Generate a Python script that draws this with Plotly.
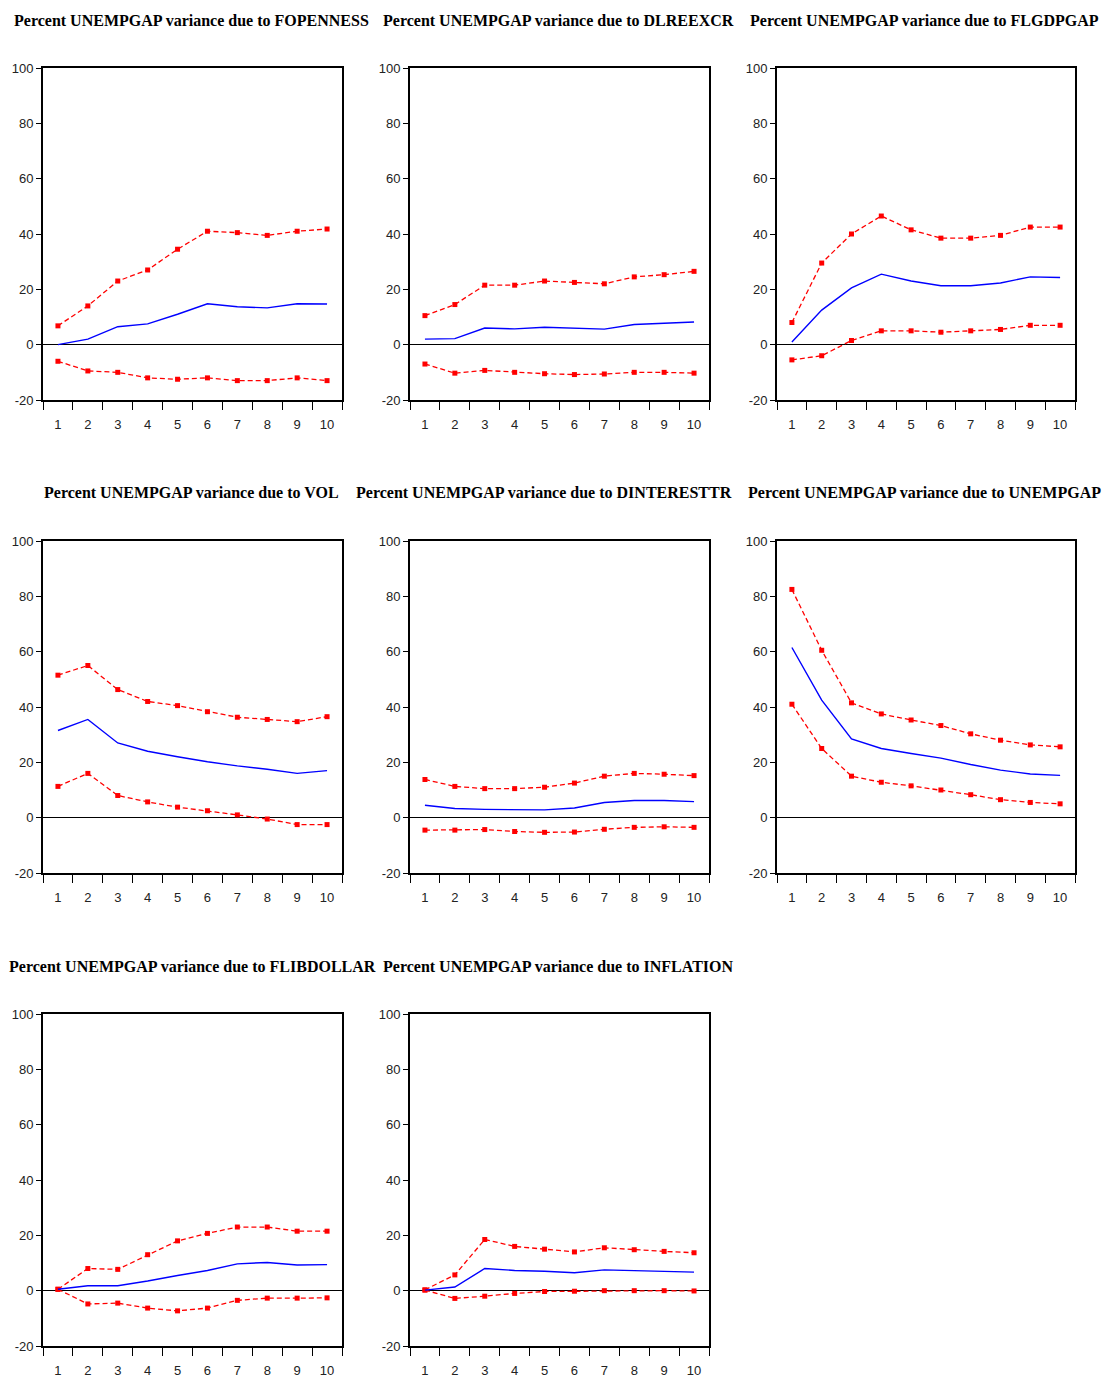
import plotly.graph_objects as go

periods = [1, 2, 3, 4, 5, 6, 7, 8, 9, 10]

titles = [
    "Percent UNEMPGAP variance due to FOPENNESS",
    "Percent UNEMPGAP variance due to DLREEXCR",
    "Percent UNEMPGAP variance due to FLGDPGAP",
    "Percent UNEMPGAP variance due to VOL",
    "Percent UNEMPGAP variance due to DINTERESTTR",
    "Percent UNEMPGAP variance due to UNEMPGAP",
    "Percent UNEMPGAP variance due to FLIBDOLLAR",
    "Percent UNEMPGAP variance due to INFLATION",
]

fopenness_mean = [0.0, 2.0, 6.5, 7.5, 11.0, 14.8, 13.7, 13.3, 14.8, 14.7]
fopenness_upper = [6.8, 14.0, 23.0, 27.0, 34.5, 41.0, 40.5, 39.5, 41.0, 41.8]
fopenness_lower = [-6.0, -9.5, -10.0, -12.0, -12.5, -12.0, -13.0, -13.0, -12.0, -13.0]

dlreexcr_mean = [2.0, 2.2, 6.0, 5.7, 6.3, 5.9, 5.6, 7.3, 7.7, 8.2]
dlreexcr_upper = [10.5, 14.5, 21.5, 21.5, 23.0, 22.5, 22.0, 24.5, 25.3, 26.5]
dlreexcr_lower = [-7.0, -10.3, -9.3, -10.0, -10.5, -10.8, -10.6, -10.0, -10.0, -10.3]

flgdpgap_mean = [1.0, 12.5, 20.5, 25.5, 23.0, 21.3, 21.3, 22.3, 24.5, 24.3]
flgdpgap_upper = [8.0, 29.5, 40.0, 46.5, 41.5, 38.5, 38.5, 39.5, 42.5, 42.5]
flgdpgap_lower = [-5.5, -4.0, 1.5, 5.0, 5.0, 4.5, 5.0, 5.5, 7.0, 7.0]

vol_mean = [31.5, 35.5, 27.0, 24.0, 22.0, 20.2, 18.7, 17.5, 16.0, 17.0]
vol_upper = [51.5, 55.0, 46.3, 42.0, 40.5, 38.3, 36.3, 35.5, 34.7, 36.5]
vol_lower = [11.3, 16.0, 8.0, 5.7, 3.8, 2.5, 1.0, -0.5, -2.5, -2.5]

dinteresttr_mean = [4.5, 3.3, 3.0, 2.8, 2.8, 3.5, 5.5, 6.2, 6.2, 5.8]
dinteresttr_upper = [13.8, 11.3, 10.5, 10.5, 11.0, 12.5, 15.0, 16.0, 15.7, 15.2]
dinteresttr_lower = [-4.5, -4.5, -4.3, -5.0, -5.3, -5.2, -4.2, -3.5, -3.3, -3.5]

unempgap_mean = [61.5, 42.5, 28.5, 25.0, 23.2, 21.5, 19.2, 17.2, 15.8, 15.3]
unempgap_upper = [82.5, 60.5, 41.5, 37.5, 35.3, 33.3, 30.3, 28.0, 26.3, 25.6]
unempgap_lower = [41.0, 25.0, 15.0, 12.8, 11.5, 10.0, 8.3, 6.5, 5.5, 5.0]

flibdollar_mean = [0.5, 1.8, 1.8, 3.5, 5.5, 7.3, 9.7, 10.2, 9.3, 9.4]
flibdollar_upper = [0.5, 8.0, 7.7, 13.0, 18.0, 20.7, 23.0, 23.0, 21.5, 21.5]
flibdollar_lower = [0.5, -4.8, -4.5, -6.3, -7.3, -6.3, -3.5, -2.7, -2.7, -2.6]

inflation_mean = [0.2, 1.3, 8.0, 7.3, 7.0, 6.5, 7.5, 7.2, 6.9, 6.7]
inflation_upper = [0.3, 5.7, 18.5, 16.0, 15.0, 14.0, 15.5, 14.8, 14.2, 13.7]
inflation_lower = [0.2, -2.8, -2.0, -1.0, -0.3, -0.2, 0.0, 0.0, 0.0, -0.1]

means = [fopenness_mean, dlreexcr_mean, flgdpgap_mean, vol_mean,
         dinteresttr_mean, unempgap_mean, flibdollar_mean, inflation_mean]
uppers = [fopenness_upper, dlreexcr_upper, flgdpgap_upper, vol_upper,
          dinteresttr_upper, unempgap_upper, flibdollar_upper, inflation_upper]
lowers = [fopenness_lower, dlreexcr_lower, flgdpgap_lower, vol_lower,
          dinteresttr_lower, unempgap_lower, flibdollar_lower, inflation_lower]

y_ticks = [-20, 0, 20, 40, 60, 80, 100]
y_tick_labels = ["-20", "0", "20", "40", "60", "80", "100"]

W, H = 1110, 1378
OFF = 8  # page body margin offset
col_px = [(43, 342), (410, 709), (777, 1075)]
row_px = [(68, 400), (541, 873), (1014, 1346)]
title_px_y = [20, 493, 966]
title_px_x = [191, 558, 924, 191, 544, 924, 192, 558]

fig = go.Figure()
annotations = []
layout_axes = {}

tick_font = dict(family="Liberation Sans", size=13, color="#222")

for i in range(8):
    r, c = divmod(i, 3)
    n = i + 1
    xa = "x" if n == 1 else f"x{n}"
    ya = "y" if n == 1 else f"y{n}"
    x0, x1 = [v - OFF for v in col_px[c]]
    y0, y1 = [v - OFF for v in row_px[r]]
    for band in (uppers[i], lowers[i]):
        fig.add_trace(go.Scatter(x=periods, y=band, mode="lines+markers",
                                 line=dict(color="#ff0000", width=1.3, dash="5px,3px"),
                                 marker=dict(color="#ff0000", symbol="square", size=5),
                                 xaxis=xa, yaxis=ya, showlegend=False))
    fig.add_trace(go.Scatter(x=periods, y=means[i], mode="lines",
                             line=dict(color="#0000ff", width=1.4),
                             xaxis=xa, yaxis=ya, showlegend=False))
    xkey = "xaxis" if n == 1 else f"xaxis{n}"
    ykey = "yaxis" if n == 1 else f"yaxis{n}"
    layout_axes[xkey] = dict(
        domain=[x0 / W, x1 / W], anchor=ya, range=[0.5, 10.5],
        tickmode="array", tickvals=periods, ticks="", showgrid=False,
        zeroline=False, showline=True, linecolor="black", linewidth=1.8,
        mirror=True, ticklabelstandoff=11, automargin=False,
        tickfont=tick_font,
        minor=dict(tickmode="array", tickvals=[k + 0.5 for k in range(0, 11)],
                   ticks="outside", ticklen=8, tickwidth=1.2, tickcolor="black",
                   showgrid=False),
    )
    layout_axes[ykey] = dict(
        domain=[1 - y1 / H, 1 - y0 / H], anchor=xa, range=[-20, 100],
        tickmode="array", tickvals=y_ticks, ticktext=y_tick_labels,
        ticks="outside", ticklen=5,
        tickwidth=1, tickcolor="black", showgrid=False, automargin=False,
        zeroline=True, zerolinecolor="black", zerolinewidth=1.3,
        showline=True, linecolor="black", linewidth=1.8, mirror=True,
        tickfont=tick_font,
    )
    annotations.append(dict(
        text=f"<b>{titles[i]}</b>", x=(title_px_x[i] - OFF) / W,
        y=1 - (title_px_y[r] - OFF) / H,
        xref="paper", yref="paper", xanchor="center", yanchor="middle",
        showarrow=False, font=dict(family="Liberation Serif", size=16, color="black"),
    ))

fig.update_layout(width=W, height=H, margin=dict(l=0, r=0, t=0, b=0, autoexpand=False),
                  paper_bgcolor="white", plot_bgcolor="white",
                  annotations=annotations, **layout_axes)

fig.write_html("out.html")
